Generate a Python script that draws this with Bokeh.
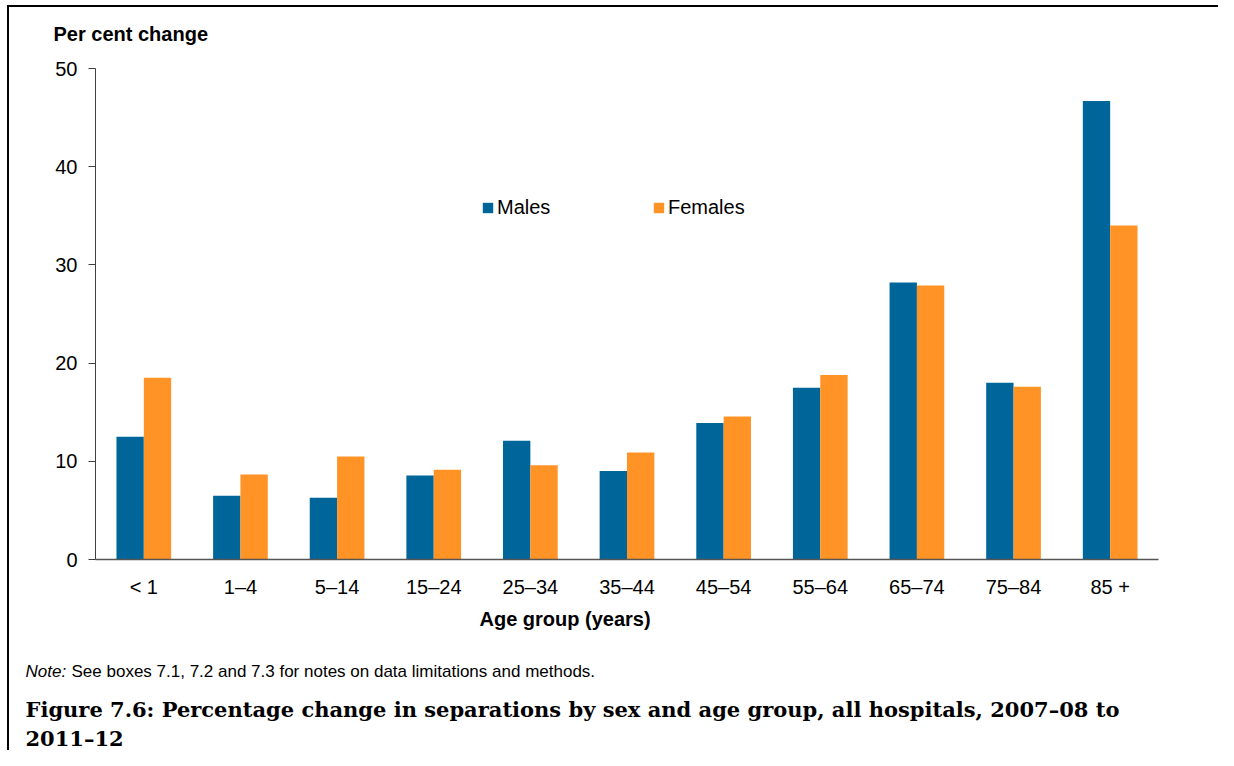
from bokeh.plotting import figure
from bokeh.models import (FactorRange, Range1d, Legend, LegendItem, Title,
                          ColumnDataSource, FixedTicker, InlineStyleSheet)
from bokeh.transform import dodge
from bokeh.embed import file_html
from bokeh.resources import INLINE

# ---------------- data ----------------
age_groups = ["< 1", "1–4", "5–14", "15–24", "25–34", "35–44", "45–54", "55–64", "65–74", "75–84", "85 +"]
males = [12.5, 6.5, 6.3, 8.55, 12.1, 9.0, 13.9, 17.5, 28.2, 18.0, 46.7]
females = [18.5, 8.65, 10.5, 9.15, 9.6, 10.9, 14.55, 18.8, 27.9, 17.6, 34.0]
series_names = ["Males", "Females"]
y_ticks = [0, 10, 20, 30, 40, 50]

y_label = "Per cent change"
x_label = "Age group (years)"
note_lead = "Note:"
note_text = "See boxes 7.1, 7.2 and 7.3 for notes on data limitations and methods."
title_line1 = "Figure 7.6: Percentage change in separations by sex and age group, all hospitals, 2007–08 to"
title_line2 = "2011–12"

# ---------------- style / layout ----------------
MALE_COLOR = "#006699"
FEMALE_COLOR = "#FF9326"
SANS = "Liberation Sans"
SERIF = "DejaVu Serif"

W, H = 1218, 750
BL, BR, BT = 95, 60, 68
FRAME_H = 491
BB = H - BT - FRAME_H

p = figure(x_range=FactorRange(factors=age_groups, range_padding=0),
           y_range=Range1d(y_ticks[0], y_ticks[-1]),
           width=W, height=H, output_backend="svg", toolbar_location=None,
           min_border_left=BL, min_border_right=BR, min_border_top=BT, min_border_bottom=BB)
p.title.visible = False
p.outline_line_color = None
p.xgrid.visible = False
p.ygrid.visible = False
p.background_fill_color = "white"
p.border_fill_color = "white"
# thin black frame along the top and left edges of the figure box
p.stylesheets = [InlineStyleSheet(css=(
    ":host { position: relative; }\n"
    ":host::after { content: ''; position: absolute; left: 7px; top: 5px; right: 0px; bottom: 0px;"
    " border-top: 2px solid #000000; border-left: 2px solid #000000; pointer-events: none; z-index: 100; }"
))]

src = ColumnDataSource(dict(age=age_groups, males=males, females=females))
bw = 0.283
rm = p.vbar(x=dodge("age", -bw / 2, range=p.x_range), top="males", width=bw, bottom=0,
            source=src, fill_color=MALE_COLOR, line_color=None)
rf = p.vbar(x=dodge("age", bw / 2, range=p.x_range), top="females", width=bw, bottom=0,
            source=src, fill_color=FEMALE_COLOR, line_color=None)

# axes
xa = p.xaxis[0]
xa.major_tick_line_color = None
xa.major_tick_out = 0
xa.major_tick_in = 0
xa.minor_tick_line_color = None
xa.axis_line_color = "#555555"
xa.axis_line_width = 1.5
xa.major_label_text_font = SANS
xa.major_label_text_font_size = "20px"
xa.major_label_text_color = "black"
xa.major_label_standoff = 16

ya = p.yaxis[0]
ya.ticker = FixedTicker(ticks=y_ticks)
ya.major_tick_out = 7
ya.major_tick_in = 0
ya.minor_tick_line_color = None
ya.axis_line_color = "#404040"
ya.major_tick_line_color = "#404040"
ya.major_label_text_font = SANS
ya.major_label_text_font_size = "20px"
ya.major_label_text_color = "black"
ya.major_label_standoff = 11

# legend
legend = Legend(items=[LegendItem(label=series_names[0], renderers=[rm]),
                       LegendItem(label=series_names[1], renderers=[rf])],
                orientation="horizontal", location=(386, 340),
                glyph_width=13, glyph_height=13, label_standoff=3, label_width=155,
                spacing=0, padding=0, margin=0, border_line_color=None,
                background_fill_alpha=0, label_text_font=SANS, label_text_font_size="20px",
                label_text_color="black")
p.add_layout(legend, "center")


def side_title(text, place, offset, standoff, size, style="normal", font=SANS, valign="bottom"):
    t = Title(text=text, align="left", offset=offset, standoff=standoff,
              text_font=font, text_font_size=size, text_font_style=style,
              text_color="black", vertical_align=valign)
    p.add_layout(t, place)
    return t


# above the frame
side_title(y_label, "above", 53 - BL, 43, "20px", "bold", valign="top")

# below the frame (stacked downwards from the x axis)
side_title(x_label, "below", 479 - BL, 10, "20px", "bold")
side_title(" ", "below", 0, 22, "10px")                        # gap
side_title(note_lead, "below", 25 - BL, -19, "17px", "italic")   # same line as next
side_title(note_text, "below", 71 - BL, -19, "17px", valign="top")
side_title(" ", "below", 0, 7, "10px")                         # gap
side_title(title_line1, "below", 25 - BL, 3, "21px", "bold", SERIF)
side_title(title_line2, "below", 25 - BL, 0, "21px", "bold", SERIF)

open("out.html", "w").write(file_html(p, INLINE))
